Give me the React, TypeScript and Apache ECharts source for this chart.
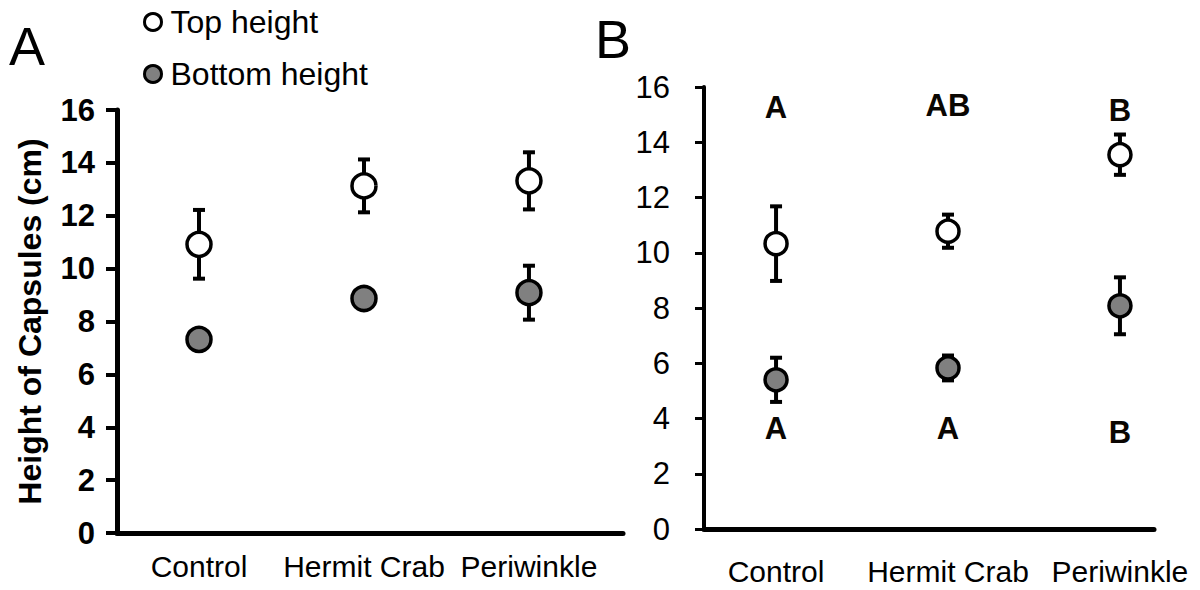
import React, { useEffect, useRef } from "react";
import * as echarts from "echarts";

const FONT = "'Liberation Sans', Arial, Helvetica, sans-serif";

const categories = ["Control", "Hermit Crab", "Periwinkle"];
const yTicks = { min: 0, max: 16, step: 2 };

// Panel A
const topA = [10.92, 13.13, 13.32];
const topAErr = [1.3, 1.0, 1.08];
const bottomA = [7.32, 8.87, 9.09];
const bottomAErr = [0.3, 0.3, 1.02];

// Panel B
const topB = [10.33, 10.78, 13.55];
const topBErr = [1.35, 0.6, 0.73];
const bottomB = [5.4, 5.83, 8.08];
const bottomBErr = [0.8, 0.45, 1.03];
const topLetters = ["A", "AB", "B"];
const topLetterY = [15.25, 15.33, 15.14];
const bottomLetters = ["A", "A", "B"];
const bottomLetterY = [3.62, 3.62, 3.48];

function errorBars(axis: number, means: number[], errs: number[]) {
  return {
    type: "custom",
    xAxisIndex: axis,
    yAxisIndex: axis,
    silent: true,
    z: 1,
    data: means.map((m, i) => [i + 1, m, errs[i]]),
    encode: { x: 0, y: 1 },
    renderItem: (_p: any, api: any) => {
      const x = api.value(0);
      const m = api.value(1);
      const e = api.value(2);
      const a = api.coord([x, m + e]);
      const b = api.coord([x, m - e]);
      const cap = 6;
      const style = { stroke: "#000", lineWidth: 4 };
      return {
        type: "group",
        children: [
          { type: "line", shape: { x1: a[0], y1: a[1], x2: b[0], y2: b[1] }, style },
          { type: "line", shape: { x1: a[0] - cap, y1: a[1], x2: a[0] + cap, y2: a[1] }, style },
          { type: "line", shape: { x1: b[0] - cap, y1: b[1], x2: b[0] + cap, y2: b[1] }, style },
        ],
      };
    },
  };
}

function points(name: string, axis: number, vals: number[], fill: string, size: number, bw: number) {
  return {
    type: "scatter",
    name,
    xAxisIndex: axis,
    yAxisIndex: axis,
    silent: true,
    z: 3,
    symbol: "circle",
    symbolSize: size,
    data: vals.map((v, i) => [i + 1, v]),
    itemStyle: { color: fill, borderColor: "#000", borderWidth: bw, opacity: 1 },
  };
}

function letters(axis: number, labels: string[], ys: number[]) {
  return {
    type: "custom",
    xAxisIndex: axis,
    yAxisIndex: axis,
    silent: true,
    z: 4,
    data: ys.map((v, i) => [i + 1, v]),
    encode: { x: 0, y: 1 },
    renderItem: (p: any, api: any) => {
      const c = api.coord([api.value(0), api.value(1)]);
      return {
        type: "text",
        x: c[0],
        y: c[1],
        style: {
          text: labels[p.dataIndex],
          fill: "#0a0602",
          font: `bold 31px ${FONT}`,
          align: "center",
          verticalAlign: "middle",
        },
      };
    },
  };
}

function xAxis(grid: number, min: number, max: number, margin: number) {
  return {
    type: "value",
    gridIndex: grid,
    min,
    max,
    axisLine: { show: true, onZero: false, lineStyle: { color: "#000", width: 5 } },
    axisTick: { show: false },
    splitLine: { show: false },
    axisLabel: {
      customValues: [1, 2, 3],
      formatter: (v: number) => categories[Math.round(v) - 1] ?? "",
      fontSize: 30,
      color: "#000",
      fontFamily: FONT,
      margin,
    },
  };
}

export default function App() {
  const ref = useRef<HTMLDivElement>(null);
  useEffect(() => {
    if (!ref.current) return;
    const chart = echarts.init(ref.current, null, { renderer: "svg" });
    chart.setOption({
      animation: false,
      backgroundColor: "#fff",
      legend: {
        data: ["Top height", "Bottom height"],
        orient: "vertical",
        left: 143,
        top: 6,
        padding: 0,
        itemWidth: 17,
        itemHeight: 17,
        itemGap: 20,
        selectedMode: false,
        icon: "circle",
        itemStyle: { borderWidth: 3, borderColor: "#000" },
        textStyle: { fontSize: 32, color: "#000", fontFamily: FONT, padding: [0, 0, 0, 4] },
      },
      grid: [
        { left: 117, top: 110, width: 506, height: 423 },
        { left: 704, top: 87, width: 450, height: 442 },
      ],
      xAxis: [xAxis(0, 0.503, 3.57, 18), xAxis(1, 0.581, 3.198, 27)],
      yAxis: [
        {
          type: "value",
          gridIndex: 0,
          min: yTicks.min,
          max: yTicks.max,
          interval: yTicks.step,
          axisLine: { show: true, lineStyle: { color: "#000", width: 5 } },
          axisTick: { show: true, length: 11, lineStyle: { color: "#000", width: 4 } },
          splitLine: { show: false },
          axisLabel: { fontSize: 31, fontWeight: "bold", color: "#000", fontFamily: FONT, margin: 22 },
          name: "Height of Capsules (cm)",
          nameLocation: "middle",
          nameRotate: 90,
          nameGap: 71,
          nameTextStyle: { fontSize: 32, fontWeight: "bold", color: "#000", fontFamily: FONT },
        },
        {
          type: "value",
          gridIndex: 1,
          min: yTicks.min,
          max: yTicks.max,
          interval: yTicks.step,
          axisLine: { show: true, lineStyle: { color: "#000", width: 4 } },
          axisTick: { show: true, length: 9, lineStyle: { color: "#000", width: 3 } },
          splitLine: { show: false },
          axisLabel: { fontSize: 31, color: "#000", fontFamily: FONT, margin: 34 },
        },
      ],
      graphic: [
        { type: "text", left: 9, top: 19, style: { text: "A", font: `54px ${FONT}`, fill: "#000" } },
        { type: "text", left: 595, top: 12, style: { text: "B", font: `54px ${FONT}`, fill: "#000" } },
      ],
      series: [
        errorBars(0, topA, topAErr),
        errorBars(0, bottomA, bottomAErr),
        points("Top height", 0, topA, "#ffffff", 24, 3.5),
        points("Bottom height", 0, bottomA, "#808080", 24, 3.5),
        errorBars(1, topB, topBErr),
        errorBars(1, bottomB, bottomBErr),
        points("Top height", 1, topB, "#ffffff", 22, 3.5),
        points("Bottom height", 1, bottomB, "#808080", 22, 3.5),
        letters(1, topLetters, topLetterY),
        letters(1, bottomLetters, bottomLetterY),
      ],
    });
    return () => chart.dispose();
  }, []);
  return (
    <div
      ref={ref}
      style={{ position: "fixed", left: 0, top: 0, width: 1200, height: 590, background: "#fff" }}
    />
  );
}
